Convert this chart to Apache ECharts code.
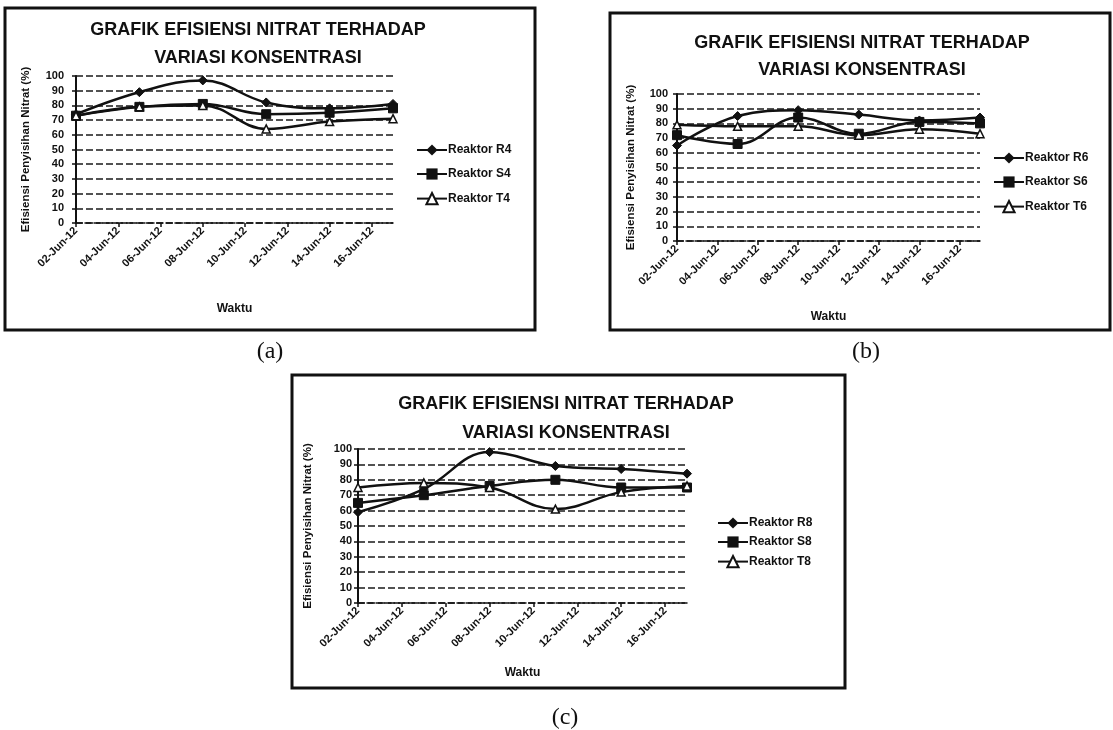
<!DOCTYPE html>
<html><head><meta charset="utf-8">
<script src="https://cdn.jsdelivr.net/npm/echarts@6/dist/echarts.min.js"></script>
<style>html,body{margin:0;padding:0;background:#fff}#c{width:1113px;height:730px}</style>
</head><body><div id="c"></div>
<script>
// ---- data ----
const days = [2, 5, 8, 11, 14, 17];            // day of June 2012
const tickLabels = ['02-Jun-12','04-Jun-12','06-Jun-12','08-Jun-12','10-Jun-12','12-Jun-12','14-Jun-12','16-Jun-12'];
const reaktorR4 = [74, 89, 97, 82, 78, 81];
const reaktorS4 = [73, 79, 81, 74, 75, 78];
const reaktorT4 = [73, 79, 80, 64, 69, 71];
const reaktorR6 = [65, 85, 89, 86, 82, 84];
const reaktorS6 = [72, 66, 84, 73, 81, 80];
const reaktorT6 = [79, 78, 78, 72, 76, 73];
const reaktorR8 = [59, 74, 98, 89, 87, 84];
const reaktorS8 = [65, 70, 76, 80, 75, 75];
const reaktorT8 = [75, 78, 75, 61, 72, 76];
const titleText = 'GRAFIK EFISIENSI NITRAT TERHADAP\nVARIASI KONSENTRASI';
const yName = 'Efisiensi Penyisihan Nitrat (%)';
const xName = 'Waktu';
const panels = [
  {names: ['Reaktor R4','Reaktor S4','Reaktor T4'], values: [reaktorR4, reaktorS4, reaktorT4], tag: '(a)'},
  {names: ['Reaktor R6','Reaktor S6','Reaktor T6'], values: [reaktorR6, reaktorS6, reaktorT6], tag: '(b)'},
  {names: ['Reaktor R8','Reaktor S8','Reaktor T8'], values: [reaktorR8, reaktorS8, reaktorT8], tag: '(c)'}
];

// ---- layout ----
const FONT = '"Liberation Sans", Arial, sans-serif';
const INK = '#111';
const layout = [
  {grid: {left: 76, top: 76, width: 317, height: 147}, box: [5, 8, 530, 322], titleX: 258, titleY: 16, lh: 28,
   legend: {left: 416, top: 144, itemGap: 12}, yGap: 44, yMargin: 12, xGap: 80, tag: [270, 352]},
  {grid: {left: 677, top: 94, width: 303, height: 147}, box: [610, 13, 500, 317], titleX: 862, titleY: 30, lh: 27,
   legend: {left: 993, top: 152, itemGap: 12}, yGap: 40, yMargin: 9, xGap: 70, tag: [866, 352]},
  {grid: {left: 358, top: 449, width: 329, height: 154}, box: [292, 375, 553, 313], titleX: 566, titleY: 390, lh: 29,
   legend: {left: 717, top: 517, itemGap: 7}, yGap: 44, yMargin: 6, xGap: 64, tag: [565, 718]}
];
const symbols = ['diamond', 'rect', 'triangle'];
const symSizes = [9, 9, 8];

const grids = [], xAxes = [], yAxes = [], series = [], titles = [], legends = [], graphics = [];
panels.forEach((p, i) => {
  const L = layout[i];
  grids.push(Object.assign({containLabel: false}, L.grid));
  xAxes.push({
    type: 'value', gridIndex: i, min: 2, max: 17, interval: 2,
    name: xName, nameLocation: 'middle', nameGap: L.xGap,
    nameTextStyle: {fontFamily: FONT, fontWeight: 'bold', fontSize: 12, color: INK},
    axisLine: {show: true, onZero: false, lineStyle: {color: INK, width: 1.5, type: [6, 3]}},
    axisTick: {show: true, length: 4, lineStyle: {color: INK, width: 1.5}},
    splitLine: {show: false},
    axisLabel: {rotate: 45, margin: 6, fontFamily: FONT, fontWeight: 'bold', fontSize: 11, color: INK,
      showMaxLabel: false,
      formatter: v => { const k = (v - 2) / 2; return Number.isInteger(k) && tickLabels[k] ? tickLabels[k] : ''; }}
  });
  yAxes.push({
    type: 'value', gridIndex: i, min: 0, max: 100, interval: 10,
    name: yName, nameLocation: 'middle', nameGap: L.yGap, nameRotate: 90,
    nameTextStyle: {fontFamily: FONT, fontWeight: 'bold', fontSize: 11.5, color: INK},
    axisLine: {show: true, lineStyle: {color: INK, width: 2}},
    axisTick: {show: true, length: 4, lineStyle: {color: INK, width: 1.5}},
    splitLine: {show: true, lineStyle: {color: '#1a1a1a', width: 1.6, type: [7, 3]}},
    axisLabel: {margin: L.yMargin, fontFamily: FONT, fontWeight: 'bold', fontSize: 11, color: INK}
  });
  p.names.forEach((n, j) => {
    series.push({
      type: 'line', name: n, xAxisIndex: i, yAxisIndex: i,
      data: days.map((d, k) => [d, p.values[j][k]]),
      smooth: 0.4, symbol: symbols[j], symbolSize: symSizes[j],
      lineStyle: {color: INK, width: 2.5},
      itemStyle: j === 2 ? {color: '#fff', borderColor: INK, borderWidth: 1.5} : {color: INK, borderColor: INK},
      z: 3 + j
    });
  });
  titles.push({
    text: titleText, left: L.titleX, top: L.titleY, textAlign: 'center', padding: 0,
    textStyle: {fontFamily: FONT, fontWeight: 'bold', fontSize: 18, color: INK, lineHeight: L.lh}
  });
  legends.push({
    data: p.names, orient: 'vertical', left: L.legend.left, top: L.legend.top, itemGap: L.legend.itemGap,
    itemWidth: 30, itemHeight: 14, padding: 0, selectedMode: false,
    textStyle: {fontFamily: FONT, fontWeight: 'bold', fontSize: 12, color: INK, padding: [0, 0, 0, -4]}
  });
  graphics.push({
    type: 'rect', shape: {x: L.box[0], y: L.box[1], width: L.box[2], height: L.box[3]},
    style: {fill: 'none', stroke: INK, lineWidth: 3}, silent: true
  });
  graphics.push({
    type: 'text', x: L.tag[0], y: L.tag[1],
    style: {text: p.tag, fill: INK, font: '24px "Liberation Serif", "Times New Roman", serif', align: 'center', verticalAlign: 'middle'}
  });
});

const chart = echarts.init(document.getElementById('c'), null, {renderer: 'canvas'});
chart.setOption({
  backgroundColor: '#fff',
  animation: false,
  title: titles, legend: legends, grid: grids, xAxis: xAxes, yAxis: yAxes, series: series,
  graphic: graphics
});
</script></body></html>
